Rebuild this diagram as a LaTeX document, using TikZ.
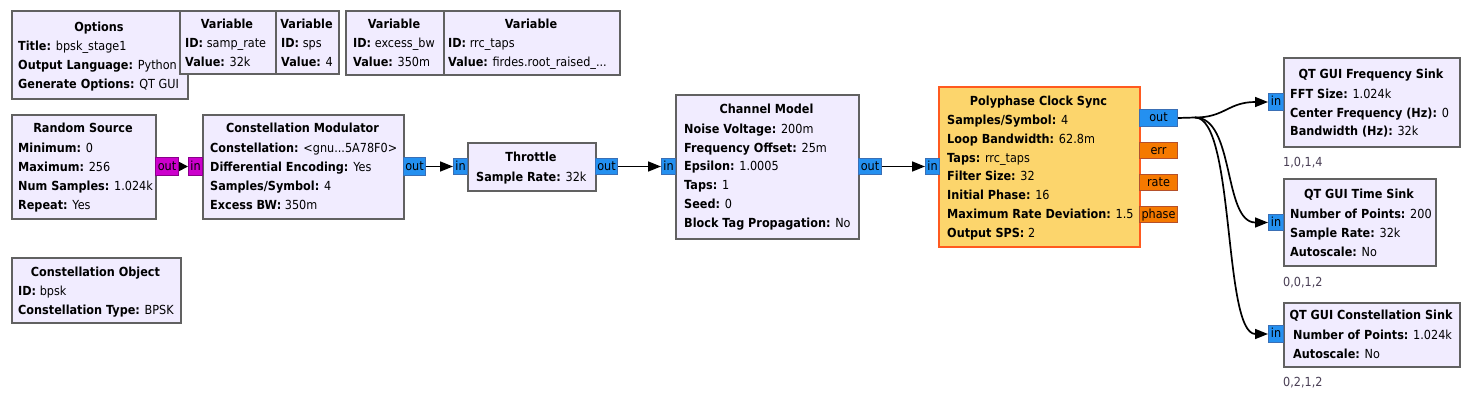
\documentclass[tikz,border=0pt]{standalone}
\usepackage{fontspec}
\setmainfont[FakeStretch=0.9]{DejaVu Sans}
\usetikzlibrary{arrows.meta}
\definecolor{lav}{HTML}{F1ECFF}
\definecolor{bgray}{HTML}{616161}
\definecolor{pblue}{HTML}{2490F0}
\definecolor{pblueb}{HTML}{3A6FB5}
\definecolor{pmag}{HTML}{CC00CC}
\definecolor{pmagb}{HTML}{8A008A}
\definecolor{porg}{HTML}{F57900}
\definecolor{porgb}{HTML}{B5502A}
\definecolor{pyel}{HTML}{FCD56C}
\definecolor{pyelb}{HTML}{FF5A1F}
\definecolor{cmt}{HTML}{4A3F55}
\tikzset{
  blk/.style={draw=bgray, line width=2pt, fill=lav, inner sep=0pt, anchor=north west},
  hot/.style={blk, draw=pyelb, fill=pyel},
  ttl/.style={anchor=base, inner sep=0pt, font=\fontsize{12.5}{14}\selectfont\bfseries},
  prm/.style={anchor=base west, inner sep=0pt},
  cmtxt/.style={anchor=base west, inner sep=0pt, text=cmt},
  port/.style={line width=1pt, inner sep=0pt, anchor=north west, font=\fontsize{12.5}{14}\selectfont, text depth=0pt, text height=7pt},
  bport/.style={port, draw=pblueb, fill=pblue},
  mport/.style={port, draw=pmagb, fill=pmag},
  oport/.style={port, draw=porgb, fill=porg},
  wire/.style={line width=1.7pt, -{Triangle[length=13pt,width=10pt]}},
  shortwire/.style={line width=1.7pt, -{Triangle[length=9pt,width=9pt]}},
}
\begin{document}
\begin{tikzpicture}[x=1pt,y=-1pt,font=\fontsize{12.5}{14}\selectfont]
\useasboundingbox[fill=white] (0,0) rectangle (1483,402);

% Options
\node[blk, minimum width=176pt, minimum height=88pt] (opt) at (11,10) {};
\node[ttl] (optt) at (99,31) {Options};
\node[prm] (opt1) at (18,50) {\textbf{Title:} bpsk\_stage1};
\node[prm] (opt2) at (18,69) {\textbf{Output Language:} Python};
\node[prm] (opt3) at (18,88) {\textbf{Generate Options:} QT GUI};

% Variable samp_rate
\node[blk, minimum width=96pt, minimum height=63pt] (v1) at (179,10) {};
\node[ttl] (v1t) at (227,28.5) {Variable};
\node[prm] (v1a) at (185,47) {\textbf{ID:} samp\_rate};
\node[prm] (v1b) at (185,66) {\textbf{Value:} 32k};

% Variable sps
\node[blk, minimum width=63pt, minimum height=63pt] (v2) at (275,10) {};
\node[ttl] (v2t) at (306.5,28.5) {Variable};
\node[prm] (v2a) at (281,47) {\textbf{ID:} sps};
\node[prm] (v2b) at (281,66) {\textbf{Value:} 4};

% Variable excess_bw
\node[blk, minimum width=98pt, minimum height=64pt] (v3) at (345,10) {};
\node[ttl] (v3t) at (394,28.5) {Variable};
\node[prm] (v3a) at (353,47) {\textbf{ID:} excess\_bw};
\node[prm] (v3b) at (353,66) {\textbf{Value:} 350m};

% Variable rrc_taps
\node[blk, minimum width=176pt, minimum height=64pt] (v4) at (443,10) {};
\node[ttl] (v4t) at (531,28.5) {Variable};
\node[prm] (v4a) at (448,47) {\textbf{ID:} rrc\_taps};
\node[prm] (v4b) at (448,66) {\textbf{Value:} firdes.root\_raised\_...};

% Random Source
\node[blk, minimum width=144pt, minimum height=104pt] (rs) at (11,114) {};
\node[ttl] (rst) at (83,132.5) {Random Source};
\node[prm] (rs1) at (18,152.5) {\textbf{Minimum:} 0};
\node[prm] (rs2) at (18,171.5) {\textbf{Maximum:} 256};
\node[prm] (rs3) at (18,190.5) {\textbf{Num Samples:} 1.024k};
\node[prm] (rs4) at (18,209) {\textbf{Repeat:} Yes};
\node[mport, minimum width=23pt, minimum height=18pt] (rsout) at (155,157) {out};

% Constellation Modulator
\node[blk, minimum width=201pt, minimum height=104pt] (cm) at (202,114) {};
\node[ttl] (cmt) at (302.5,132.5) {Constellation Modulator};
\node[prm] (cm1) at (210,152.5) {\textbf{Constellation:} <gnu...5A78F0>};
\node[prm] (cm2) at (210,171.5) {\textbf{Differential Encoding:} Yes};
\node[prm] (cm3) at (210,190.5) {\textbf{Samples/Symbol:} 4};
\node[prm] (cm4) at (210,209) {\textbf{Excess BW:} 350m};
\node[mport, minimum width=14pt, minimum height=18pt] (cmin) at (188,157) {in};
\node[bport, minimum width=22pt, minimum height=18pt] (cmout) at (403,157) {out};

% Throttle
\node[blk, minimum width=128pt, minimum height=48pt] (th) at (467,142) {};
\node[ttl] (tht) at (531,161.5) {Throttle};
\node[prm] (th1) at (476,181.5) {\textbf{Sample Rate:} 32k};
\node[bport, minimum width=14pt, minimum height=16pt] (thin) at (453,158) {in};
\node[bport, minimum width=22pt, minimum height=16pt] (thout) at (595,158) {out};

% Channel Model
\node[blk, minimum width=183pt, minimum height=144pt] (ch) at (675,94) {};
\node[ttl] (cht) at (766.5,113.5) {Channel Model};
\node[prm] (ch1) at (684,133) {\textbf{Noise Voltage:} 200m};
\node[prm] (ch2) at (684,152) {\textbf{Frequency Offset:} 25m};
\node[prm] (ch3) at (684,170.5) {\textbf{Epsilon:} 1.0005};
\node[prm] (ch4) at (684,189.5) {\textbf{Taps:} 1};
\node[prm] (ch5) at (684,208.5) {\textbf{Seed:} 0};
\node[prm] (ch6) at (684,227) {\textbf{Block Tag Propagation:} No};
\node[bport, minimum width=14pt, minimum height=16pt] (chin) at (661,158) {in};
\node[bport, minimum width=23pt, minimum height=16pt] (chout) at (858,158) {out};

% Polyphase Clock Sync
\node[hot, minimum width=201pt, minimum height=160pt] (pc) at (938,86) {};
\node[ttl] (pct) at (1038.5,105.5) {Polyphase Clock Sync};
\node[prm] (pc1) at (947,124) {\textbf{Samples/Symbol:} 4};
\node[prm] (pc2) at (947,143) {\textbf{Loop Bandwidth:} 62.8m};
\node[prm] (pc3) at (947,162) {\textbf{Taps:} rrc\_taps};
\node[prm] (pc4) at (947,180.5) {\textbf{Filter Size:} 32};
\node[prm] (pc5) at (947,199.5) {\textbf{Initial Phase:} 16};
\node[prm] (pc6) at (947,218.5) {\textbf{Maximum Rate Deviation:} 1.5};
\node[prm] (pc7) at (947,237) {\textbf{Output SPS:} 2};
\node[bport, minimum width=14pt, minimum height=16pt] (pcin) at (925,158) {in};
\node[bport, minimum width=38pt, minimum height=17pt] (pcout) at (1139,109) {out};
\node[oport, minimum width=38pt, minimum height=16pt] (pcerr) at (1139,142) {err};
\node[oport, minimum width=38pt, minimum height=16pt] (pcrate) at (1139,174) {rate};
\node[oport, minimum width=38pt, minimum height=16pt] (pcphase) at (1139,206) {phase};

% QT GUI Frequency Sink
\node[blk, minimum width=176pt, minimum height=89pt] (fs) at (1283,57) {};
\node[ttl] (fst) at (1371,78.5) {QT GUI Frequency Sink};
\node[prm] (fs1) at (1290,98) {\textbf{FFT Size:} 1.024k};
\node[prm] (fs2) at (1290,117) {\textbf{Center Frequency (Hz):} 0};
\node[prm] (fs3) at (1290,135.5) {\textbf{Bandwidth (Hz):} 32k};
\node[bport, minimum width=15pt, minimum height=17pt] (fsin) at (1268,93) {in};
\node[cmtxt] (fsc) at (1283,166.5) {1,0,1,4};

% QT GUI Time Sink
\node[blk, minimum width=152pt, minimum height=87pt] (ts) at (1283,178) {};
\node[ttl] (tst) at (1359,198.5) {QT GUI Time Sink};
\node[prm] (ts1) at (1290,218) {\textbf{Number of Points:} 200};
\node[prm] (ts2) at (1290,237) {\textbf{Sample Rate:} 32k};
\node[prm] (ts3) at (1290,256) {\textbf{Autoscale:} No};
\node[bport, minimum width=15pt, minimum height=16pt] (tsin) at (1268,214) {in};
\node[cmtxt] (tsc) at (1283,286.5) {0,0,1,2};

% QT GUI Constellation Sink
\node[blk, minimum width=176pt, minimum height=64pt] (cs) at (1283,302) {};
\node[ttl] (cst) at (1371,319.5) {QT GUI Constellation Sink};
\node[prm] (cs1) at (1293,339) {\textbf{Number of Points:} 1.024k};
\node[prm] (cs2) at (1293,358) {\textbf{Autoscale:} No};
\node[bport, minimum width=15pt, minimum height=17pt] (csin) at (1268,325) {in};
\node[cmtxt] (csc) at (1283,386.5) {0,2,1,2};

% Constellation Object
\node[blk, minimum width=169pt, minimum height=65pt] (co) at (11,257) {};
\node[ttl] (cot) at (95.5,276.5) {Constellation Object};
\node[prm] (co1) at (18,295.5) {\textbf{ID:} bpsk};
\node[prm] (co2) at (18,314.5) {\textbf{Constellation Type:} BPSK};

% connections
\draw[shortwire] (rsout.east) -- (cmin.west);
\draw[wire] (cmout.east) -- (thin.west);
\draw[wire] (thout.east) -- (chin.west);
\draw[wire] (chout.east) -- (pcin.west);
\coordinate (split) at (1195,117.5);
\draw[line width=1.7pt] (pcout.east) -- (split);
\draw[wire] (split) .. controls +(30,0) and +(-40,0) .. (fsin.west);
\draw[wire] (split) .. controls +(40,0) and +(-45,0) .. (tsin.west);
\draw[wire] (split) .. controls +(40,0) and +(-45,0) .. (csin.west);
\end{tikzpicture}
\end{document}
